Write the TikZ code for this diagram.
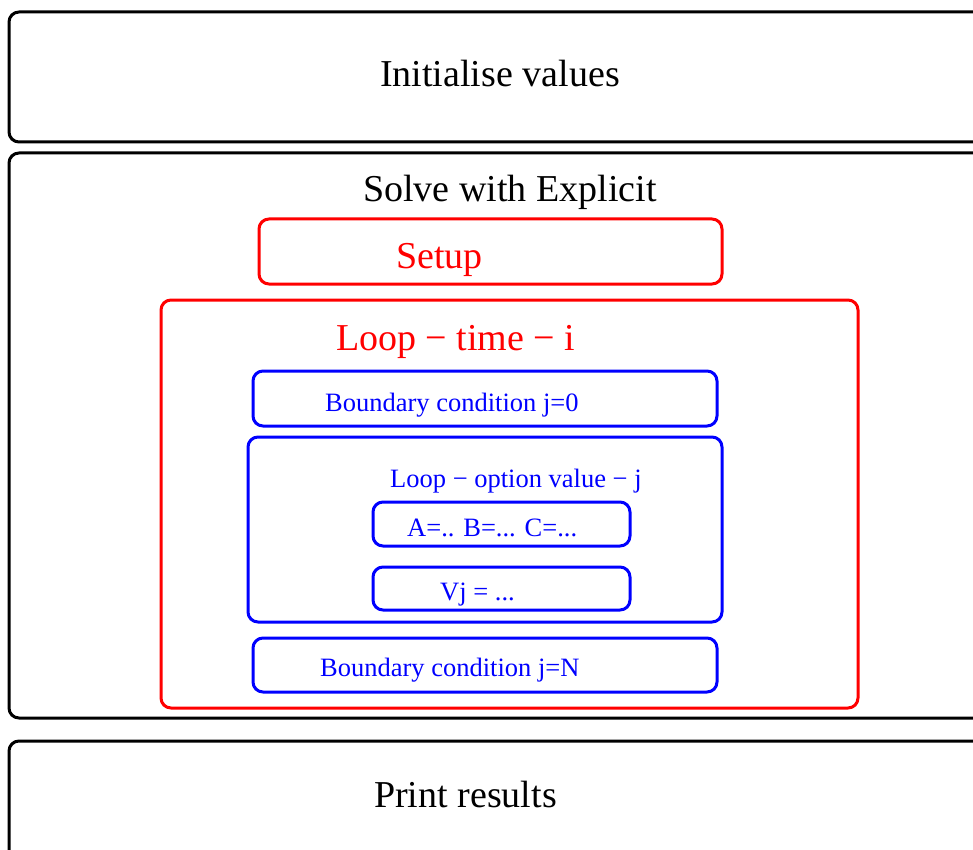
\documentclass[tikz,border=0pt]{standalone}
\usepackage{fontspec}
\setmainfont{Liberation Serif}
\tikzset{
  blackbox/.style={draw=black, line width=3pt, rounded corners=10pt},
  redbox/.style={draw=red, line width=3pt, rounded corners=10pt},
  bluebox/.style={draw=blue, line width=3pt, rounded corners=10pt},
  bigtext/.style={anchor=base west, inner sep=0pt, font=\fontsize{38}{40}\selectfont},
  smalltext/.style={anchor=base west, inner sep=0pt, text=blue, font=\fontsize{26.5}{28}\selectfont},
}
\begin{document}
\begin{tikzpicture}[x=1pt,y=-1pt]
  \useasboundingbox (0,0) rectangle (973,850);
  \clip (0,0) rectangle (973,850);
  % outer stages
  \draw[blackbox] (9,12) rectangle (1000,142);
  \node[bigtext] (init) at (380,87) {Initialise values};
  \draw[blackbox] (9,153) rectangle (1000,718);
  \node[bigtext] (solve) at (363,202) {Solve with Explicit};
  \draw[blackbox] (9,741) rectangle (1000,880);
  \node[bigtext] (print) at (374,807) {Print results};
  % explicit scheme
  \draw[redbox] (259,219) rectangle (722,284);
  \node[bigtext, text=red] (setup) at (396,268) {Setup};
  \draw[redbox] (161,300) rectangle (858,708);
  \node[bigtext, text=red] (looptime) at (336,350) {Loop − time − i};
  \draw[bluebox] (253,371) rectangle (717,426);
  \node[smalltext] (bczero) at (325,411) {Boundary condition j=0};
  \draw[bluebox] (248,437) rectangle (722,622);
  \node[smalltext] (loopopt) at (390,487) {Loop − option value − j};
  \draw[bluebox] (373,502) rectangle (630,546);
  \node[smalltext] (coeffs) at (407,536) {A=.. B=... C=...};
  \draw[bluebox] (373,567) rectangle (630,610);
  \node[smalltext] (vj) at (440,600) {Vj = ...};
  \draw[bluebox] (253,638) rectangle (717,692);
  \node[smalltext] (bcn) at (320,676) {Boundary condition j=N};
\end{tikzpicture}
\end{document}
